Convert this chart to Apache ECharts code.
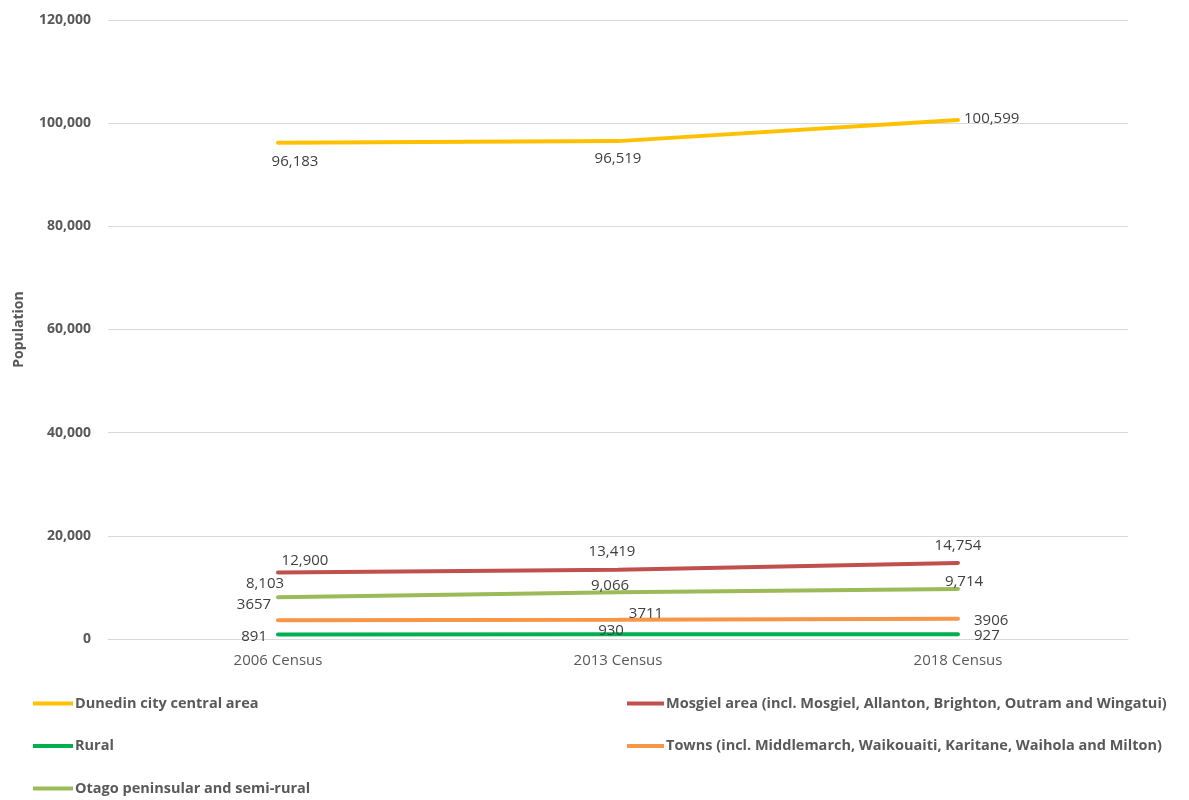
<!DOCTYPE html>
<html>
<head>
<meta charset="utf-8">
<script src="https://cdn.jsdelivr.net/npm/echarts@6/dist/echarts.min.js"></script>
<style>
html,body{margin:0;padding:0;background:#fff;}
#chart{width:1189px;height:800px;}
</style>
</head>
<body>
<div id="chart"></div>
<script>
var categories = ['2006 Census', '2013 Census', '2018 Census'];
var dunedin = [96183, 96519, 100599];
var mosgiel = [12900, 13419, 14754];
var rural = [891, 930, 927];
var towns = [3657, 3711, 3906];
var otago = [8103, 9066, 9714];
var yTicks = [0, 20000, 40000, 60000, 80000, 100000, 120000];

var seriesNames = [
  'Dunedin city central area',
  'Mosgiel area (incl. Mosgiel, Allanton, Brighton, Outram and Wingatui)',
  'Rural',
  'Towns (incl. Middlemarch, Waikouaiti, Karitane, Waihola and Milton)',
  'Otago peninsular and semi-rural'
];
var colors = ['#FFC000', '#C0504D', '#00B050', '#F79646', '#9BBB59'];
var values = [dunedin, mosgiel, rural, towns, otago];
// label display style (plain number for towns/rural)
var thousandsSep = [true, true, false, false, true];
// label placement per point
var placement = [
  [['bottom', [17, 6]], ['bottom', [0, 5]], ['right', [1, -1]]],
  [['top', [27, 1]], ['top', [-6, -6]], ['top', [0, -5]]],
  [['left', [-6, 2]], ['top', [-7, 9]], ['right', [11, 2]]],
  [['top', [-24, -3]], ['top', [28, 6]], ['right', [11, 2]]],
  [['top', [-13, -1]], ['top', [-8, 6]], ['top', [6, 5]]]
];
// legend grid positions (column left, row index)
var legendPos = [[33, 0], [627, 0], [33, 1], [627, 1], [33, 2]];

function fmt(v, sep) {
  return sep ? v.toLocaleString('en-US') : String(v);
}

var FONT = 'Open Sans';
var series = values.map(function (arr, i) {
  return {
    name: seriesNames[i],
    type: 'line',
    symbol: 'circle',
    symbolSize: 0,
    showSymbol: true,
    smooth: false,
    z: 10 - i,
    lineStyle: { width: 4, color: colors[i], cap: 'round' },
    itemStyle: { color: colors[i] },
    data: arr.map(function (v, j) {
      return {
        value: v,
        label: {
          show: true,
          position: placement[i][j][0],
          offset: placement[i][j][1],
          formatter: fmt(v, thousandsSep[i]),
          color: '#404040',
          fontFamily: FONT,
          fontSize: 15
        }
      };
    })
  };
});

var legends = seriesNames.map(function (n, i) {
  return {
    orient: 'horizontal',
    icon: 'rect',
    itemWidth: i % 2 === 1 ? 37 : 40,
    itemHeight: 4,
    padding: 0,
    left: legendPos[i][0],
    top: 696 + legendPos[i][1] * 42.5,
    data: [n],
    textStyle: { color: '#595959', fontFamily: FONT, fontSize: 14.5, fontWeight: 'bold', padding: [0, 0, 0, -3] },
    selectedMode: false
  };
});

var chart = echarts.init(document.getElementById('chart'));
chart.setOption({
  backgroundColor: '#fff',
  animation: false,
  grid: { left: 108, right: 61, top: 20, bottom: 161 },
  legend: legends,
  xAxis: {
    type: 'category',
    data: categories,
    boundaryGap: true,
    axisLine: { show: true, lineStyle: { color: '#d9d9d9', width: 1 } },
    axisTick: { show: false },
    axisLabel: { color: '#595959', fontFamily: FONT, fontSize: 15, margin: 14 }
  },
  yAxis: {
    type: 'value',
    min: yTicks[0],
    max: yTicks[yTicks.length - 1],
    interval: yTicks[1] - yTicks[0],
    name: 'Population',
    nameLocation: 'middle',
    nameGap: 82,
    nameRotate: 90,
    nameTextStyle: { color: '#595959', fontFamily: FONT, fontSize: 14, fontWeight: 'bold' },
    axisLine: { show: false },
    axisTick: { show: false },
    splitLine: { lineStyle: { color: '#d9d9d9', width: 1 } },
    axisLabel: {
      color: '#595959', fontFamily: FONT, fontSize: 14, fontWeight: 'bold', margin: 17,
      formatter: function (v) { return v.toLocaleString('en-US'); }
    }
  },
  series: series
});
</script>
</body>
</html>
